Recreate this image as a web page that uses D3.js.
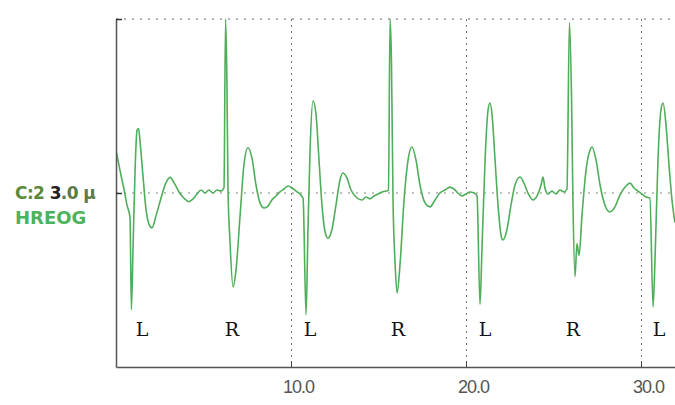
<!DOCTYPE html>
<html><head><meta charset="utf-8">
<script src="https://cdn.jsdelivr.net/npm/d3@7"></script>
<style>html,body{margin:0;padding:0;background:#fff;}svg{display:block}</style>
</head><body><svg id="c" width="675" height="405"></svg>
<script>
// time (s) and HREOG amplitude (fraction of full scale)
const timeS = [0,0.11,0.29,0.46,0.63,0.80,0.88,0.97,1.09,1.20,1.29,1.37,1.54,1.71,1.89,2.06,2.29,2.57,2.86,3.09,3.31,3.60,3.89,4.17,4.40,4.63,4.86,5.09,5.31,5.54,5.77,6.00,6.17,
6.26,6.34,6.40,6.51,6.69,6.86,7.09,7.31,7.54,7.77,8.00,8.23,8.46,8.69,8.91,9.14,9.37,9.60,9.83,10.06,10.29,10.51,10.69,
10.86,10.97,11.09,11.26,11.43,11.60,11.77,11.94,12.11,12.34,12.57,12.80,12.97,13.20,13.43,13.71,14.06,14.29,14.51,14.74,14.97,15.20,15.43,15.57,
15.66,15.74,15.83,15.94,16.06,16.23,16.46,16.69,16.91,17.14,17.37,17.66,17.94,18.23,18.51,18.80,19.09,19.31,19.54,19.77,20.00,20.23,20.46,20.63,
20.80,20.91,21.09,21.26,21.37,21.49,21.66,21.83,22.00,22.11,22.34,22.57,22.80,23.09,23.31,23.54,23.83,24.06,24.29,24.40,24.51,24.69,24.91,25.14,25.37,25.60,25.77,
25.91,26.03,26.11,26.23,26.34,26.46,26.63,26.86,27.09,27.20,27.43,27.66,27.94,28.23,28.51,28.80,29.09,29.37,29.60,29.83,30.06,30.29,30.51,
30.69,30.80,30.97,31.14,31.26,31.43,31.60,31.77,31.94];
const signal = [0.247,0.19,0.10,0.02,-0.07,-0.14,-0.67,-0.33,0.13,0.36,0.37,0.30,0.10,-0.09,-0.18,-0.20,-0.13,-0.03,0.06,0.09,0.06,0.006,-0.03,-0.05,-0.034,-0.006,0.017,0,0.017,0,0.017,0.011,0.029,
1.0,0.63,0.02,-0.27,-0.54,-0.44,-0.13,0.16,0.26,0.20,0.046,-0.057,-0.086,-0.075,-0.04,-0.017,0.006,0.023,0.04,0.029,0.011,-0.006,-0.03,
-0.70,-0.21,0.25,0.53,0.45,0.19,-0.07,-0.22,-0.26,-0.21,-0.07,0.075,0.115,0.086,0.017,-0.023,-0.04,-0.023,-0.034,-0.017,-0.006,0.006,0.011,0.017,
1.0,0.76,-0.04,-0.385,-0.575,-0.41,-0.04,0.19,0.264,0.19,0.046,-0.057,-0.08,-0.04,0,0.017,0.034,0.023,0,-0.017,-0.006,0.006,0,-0.017,
-0.64,-0.33,0.19,0.477,0.517,0.448,0.19,-0.07,-0.24,-0.27,-0.21,-0.07,0.046,0.092,0.057,0,-0.04,-0.017,0.046,0.092,0.029,-0.006,0.011,-0.006,0.017,0.006,0.023,
0.98,0.55,-0.04,-0.48,-0.29,-0.36,-0.126,0.132,0.247,0.264,0.19,0.046,-0.07,-0.109,-0.08,-0.011,0.034,0.057,0.029,0.011,-0.006,-0.023,-0.029,
-0.655,-0.385,0.19,0.477,0.517,0.39,0.16,-0.04,-0.17];
const eyeLabels = ["L","R","L","R","L","R","L"];
const eyeLabelT = [1.49,6.63,11.09,16.11,21.09,26.11,31.03];
const eyeLabelV = [-0.82,-0.82,-0.82,-0.82,-0.82,-0.82,-0.82];
const xTicks = [10,20,30];
const yGrid = [1,0];
const channelParts = ["C:2 ","3",".0 \u03bc"];
const channelName = "HREOG";

const svg = d3.select("#c");
const W = 675, H = 405;
const m = {l:116, t:19, r:0, b:38};
const x = d3.scaleLinear().domain([0,31.943]).range([m.l, W - m.r]);
const y = d3.scaleLinear().domain([-1,1]).range([H - m.b, m.t]);

svg.append("rect").attr("width",W).attr("height",H).attr("fill","#fff");

// grid
svg.append("g").selectAll("line").data(yGrid).join("line")
  .attr("x1",x(0)).attr("x2",W).attr("y1",d=>y(d)).attr("y2",d=>y(d))
  .attr("stroke",d=>d===0?"#7a8a70":"#666").attr("stroke-width",1)
  .attr("stroke-dasharray","2,6");
svg.append("g").selectAll("line").data(xTicks).join("line")
  .attr("x1",d=>Math.round(x(d))+0.5).attr("x2",d=>Math.round(x(d))+0.5)
  .attr("y1",y(1)).attr("y2",y(-1))
  .attr("stroke","#777").attr("stroke-width",1).attr("stroke-dasharray","2,4");

// clip
svg.append("clipPath").attr("id","pc").append("rect")
  .attr("x",x(0)).attr("y",y(1)-1).attr("width",W-x(0)).attr("height",y(-1)-y(1)+2);

const line = d3.line().x(d=>x(d[0])).y(d=>y(d[1])).curve(d3.curveMonotoneX);
const pts = timeS.map((t,i)=>[t,signal[i]]);
svg.append("path").datum(pts).attr("clip-path","url(#pc)")
  .attr("d",line).attr("fill","none").attr("stroke","#4fae5a")
  .attr("stroke-width",1.6).attr("stroke-linejoin","round");

// axes
const xAxis = d3.axisBottom(x).tickValues(xTicks).tickFormat(d3.format(".1f"))
  .tickSizeInner(-6).tickSizeOuter(0).tickPadding(13);
const gx = svg.append("g").attr("transform",`translate(0,${y(-1)})`).call(xAxis);
gx.select(".domain").attr("stroke","#555").attr("stroke-width",1.5);
gx.selectAll(".tick line").attr("stroke","#444");
gx.selectAll(".tick text").attr("fill","#555").attr("font-family","Liberation Sans, Arial, sans-serif")
  .attr("font-size",18).attr("letter-spacing",-1).attr("dx",7);

const yAxis = d3.axisLeft(y).tickValues(yGrid).tickFormat("").tickSizeInner(-6).tickSizeOuter(0);
const gy = svg.append("g").attr("transform",`translate(${x(0)},0)`).call(yAxis);
gy.select(".domain").attr("stroke","#555").attr("stroke-width",1.5);
gy.selectAll(".tick line").attr("stroke","#333").attr("stroke-width",1.5);

// eye movement labels
svg.append("g").selectAll("text").data(eyeLabels).join("text")
  .attr("x",(d,i)=>x(eyeLabelT[i])).attr("y",(d,i)=>y(eyeLabelV[i]))
  .attr("text-anchor","middle").attr("font-family","DejaVu Serif, Liberation Serif, serif")
  .attr("font-size",19).attr("fill","#111").text(d=>d);

// channel label
const cl = svg.append("text").attr("x",15).attr("y",y(0)+6)
  .attr("font-family","DejaVu Sans, sans-serif").attr("font-size",17).attr("font-weight","bold").attr("letter-spacing",-0.6);
const colors = ["#5a8a3a","#222","#5a7a4a"];
channelParts.forEach((p,i)=>cl.append("tspan").attr("fill",colors[i]).text(p));
svg.append("text").attr("x",15).attr("y",y(0)+31)
  .attr("font-family","DejaVu Sans, sans-serif").attr("font-size",18).attr("font-weight","bold")
  .attr("fill","#4cb35a").text(channelName);
</script></body></html>
